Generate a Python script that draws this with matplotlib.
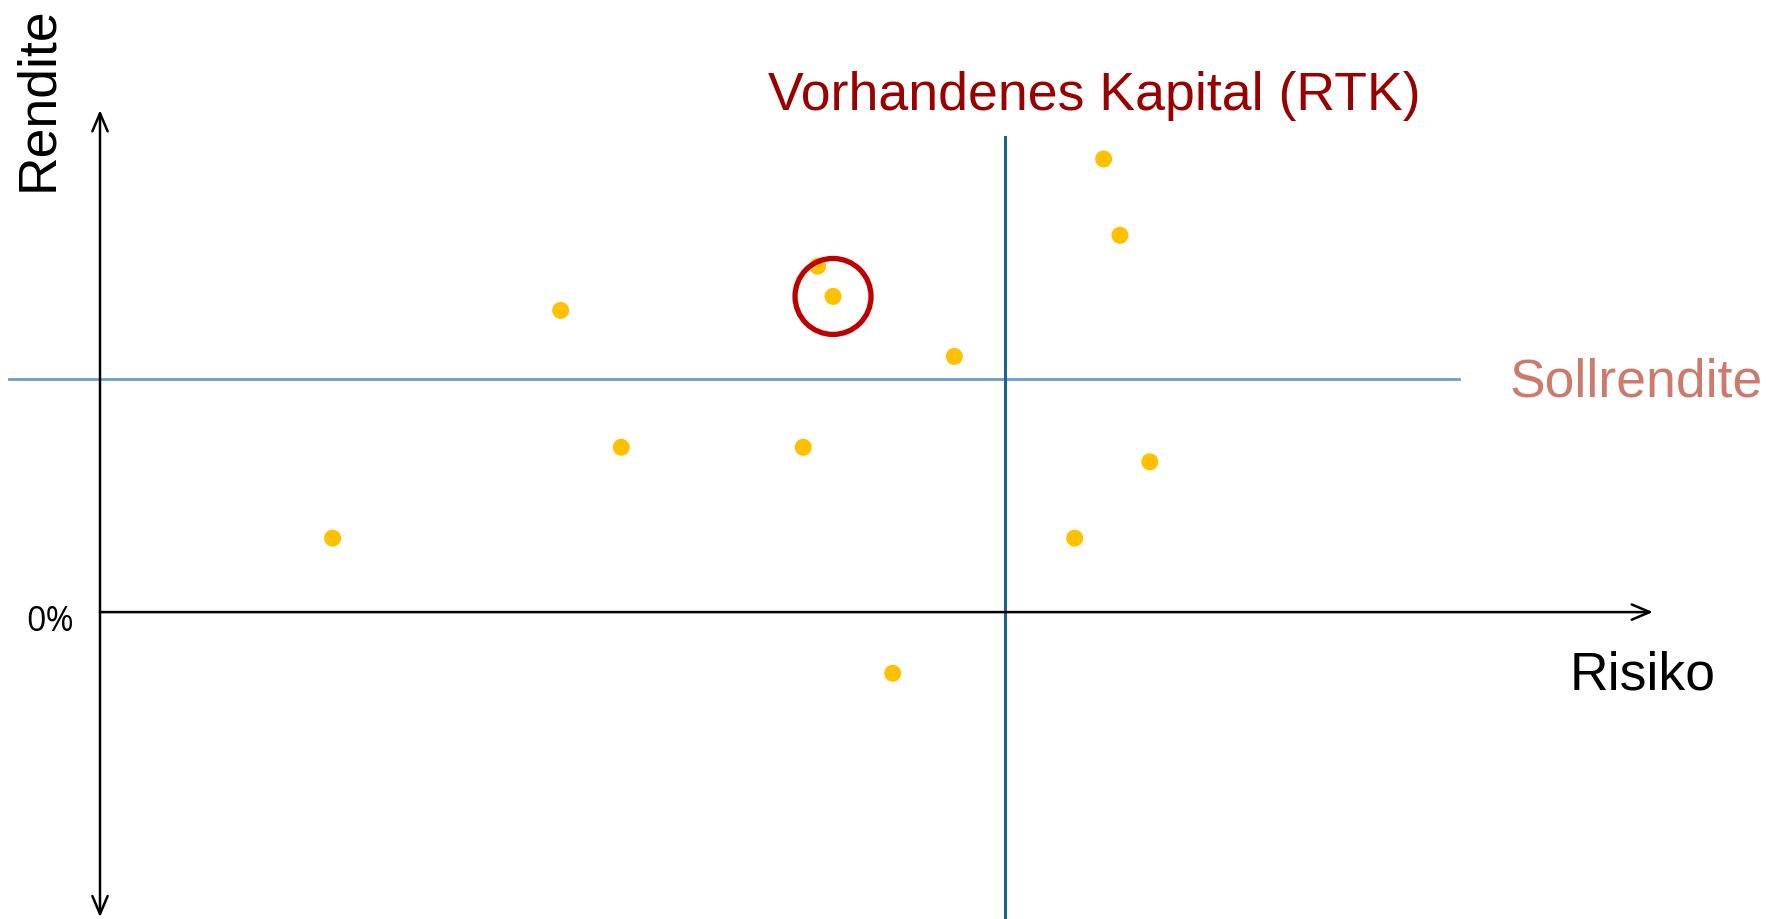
import matplotlib.pyplot as plt
from matplotlib.patches import Ellipse

plt.rcParams['font.family'] = ['Liberation Sans', 'DejaVu Sans']

# Risiko (Kapitalbedarf) und Rendite (%) der einzelnen Geschäftsfelder
risiko = [25.7, 50.9, 57.6, 77.7, 79.3, 81.0, 94.4, 87.6, 107.7, 110.9, 112.7, 116.0]
rendite = [1.27, 5.18, 2.83, 2.83, 5.94, 5.42, 4.39, -1.05, 1.27, 7.78, 6.47, 2.58]

sollrendite = 4.0        # Renditeziel
kapital_rtk = 100.0      # vorhandenes Kapital
markiert = 5             # hervorgehobenes Geschäftsfeld

fig = plt.figure(figsize=(17.83, 9.19), dpi=100)
ax = fig.add_axes([0, 0, 1, 1])
ax.set_xlim(-11.05, 185.97)
ax.set_ylim(-5.27, 10.51)
ax.axis('off')

arrow = dict(arrowstyle='->,head_length=1.3,head_width=0.55', color='black',
             lw=1.8, shrinkA=0, shrinkB=0)
# Rendite-Achse (beidseitig) und Risiko-Achse
ax.annotate('', xy=(0, 8.62), xytext=(0, 0), arrowprops=arrow)
ax.annotate('', xy=(0, -5.24), xytext=(0, 0), arrowprops=arrow)
ax.annotate('', xy=(171.6, 0), xytext=(0, 0), arrowprops=arrow)

ax.plot([-10.06, 150.2], [sollrendite, sollrendite], color='#6F9FC0', lw=2.0, zorder=1)
ax.plot([kapital_rtk, kapital_rtk], [-5.3, 8.15], color='#1B6394', lw=2.2, zorder=1)

ax.scatter(risiko, rendite, s=150, color='#FFC000', edgecolors='none', zorder=3)

# Kreis um das markierte Feld
ax.add_patch(Ellipse((risiko[markiert], rendite[markiert]), 76 / 9.05, 76 / 58.25,
                     fill=False, edgecolor='#C00000', lw=3.8, zorder=4))

ax.text(-6.85, 8.82, 'Rendite', rotation=90, fontsize=38.5, ha='center', va='center')
ax.text(170.5, -1.09, 'Risiko', fontsize=38.5, ha='center', va='center')
ax.text(-5.46, -0.17, '0%', fontsize=24.5, ha='center', va='center',
        family=['Open Sans', 'DejaVu Sans'])
ax.text(169.7, 3.94, 'Sollrendite', fontsize=38.5, color='#CC7A6C',
        ha='center', va='center')
ax.text(109.9, 8.86, 'Vorhandenes Kapital (RTK)', fontsize=38.6, color='#990000',
        ha='center', va='center')

fig.savefig('out.png', dpi=100)
